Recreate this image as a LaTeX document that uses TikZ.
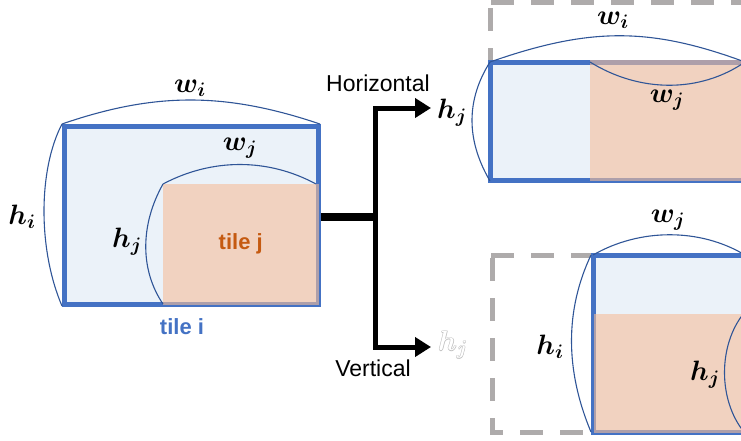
\RequirePackage{fix-cm}
\documentclass[tikz,border=0pt]{standalone}
\usepackage{amsmath,bm}
\usepackage{fontspec}
\setsansfont{Liberation Sans}
\usetikzlibrary{arrows.meta}

\definecolor{tileblue}{RGB}{68,114,196}
\definecolor{tilefill}{RGB}{235,242,249}
\definecolor{tilejfill}{RGB}{245,190,154}
\definecolor{tilejtext}{RGB}{197,90,17}
\definecolor{curveblue}{RGB}{47,85,151}
\definecolor{dashgray}{RGB}{174,171,171}
\definecolor{hollowgray}{RGB}{190,190,190}

% outlined (hollow) lettering
\newcommand{\hollowsym}[1]{%
  \leavevmode
  \rlap{\textcolor{hollowgray}{\raisebox{0.6pt}{#1}}}%
  \rlap{\textcolor{hollowgray}{\raisebox{-0.6pt}{#1}}}%
  \rlap{\textcolor{hollowgray}{\hspace{0.6pt}#1}}%
  \rlap{\textcolor{hollowgray}{\hspace{-0.6pt}#1}}%
  \textcolor{white}{#1}}

\tikzset{
  tilei/.style={draw=tileblue, fill=tilefill, line width=5pt, inner sep=0pt,
    line join=miter},
  tilej/.style={fill=tilejfill, fill opacity=0.6, text opacity=1, inner sep=0pt,
    text=tilejtext, font=\sffamily\bfseries\fontsize{22}{26}\selectfont},
  ghost/.style={draw=dashgray, line width=5pt, dash pattern=on 23pt off 17pt},
  span/.style={draw=curveblue, line width=1.1pt},
  sym/.style={font=\fontsize{28}{32}\selectfont, inner sep=0pt},
  dirlabel/.style={font=\sffamily\fontsize{23}{27}\selectfont, inner sep=0pt},
  bar/.style={line width=8pt, line cap=butt},
  branch/.style={line width=5pt, line join=miter,
    -{Triangle[length=16pt,width=19pt]}},
}

\begin{document}
\begin{tikzpicture}[x=1pt,y=-1pt]
\useasboundingbox (0,0) rectangle (741,440);
\clip (0,0) rectangle (741,440);

% ---- original placement: tile j inside tile i ----
\node[tilei, minimum width=254pt, minimum height=178pt] (ti) at (191.5,215.5) {};
\node[tilej, minimum width=155.5pt, minimum height=120.5pt] (tj) at (240.75,244.25) {tile j};
\node[font=\sffamily\bfseries\fontsize{22}{26}\selectfont, text=tileblue, inner sep=0pt]
  (tilabel) at (182,327) {tile i};

\draw[span] (62,124) .. controls (155,92) and (225,92) .. (320,124);
\draw[span] (62,124) .. controls (38,170) and (38,250) .. (62,306);
\draw[span] (163,184) .. controls (212,158) and (268,158) .. (316,184);
\draw[span] (163,184) .. controls (140,225) and (140,270) .. (163,304);
\node[sym] (wiA) at (190,88) {$\bm{w_i}$};
\node[sym] (hiA) at (22,217) {$\bm{h_i}$};
\node[sym] (wjA) at (240,148) {$\bm{w_j}$};
\node[sym] (hjA) at (127,242) {$\bm{h_j}$};

% ---- split connector ----
\coordinate (split) at (375,217);
\coordinate (hz) at (431,108);
\coordinate (vt) at (431,347);
\draw[bar] (ti.east |- split) -- ([xshift=2.5pt]split);
\draw[branch] (split) |- (hz);
\draw[branch] (split) |- (vt);
\node[dirlabel] (hlab) at (378,83) {Horizontal};
\node[dirlabel] (vlab) at (373,368) {Vertical};

% ---- horizontal split ----
\draw[ghost] (491,2.5) -- (760,2.5);
\draw[ghost] (490.5,8) -- (490.5,181);
\node[tilei, minimum width=259.5pt, minimum height=118pt] (tiH) at (620.25,121.5) {};
\node[tilej, minimum width=160pt, minimum height=120.5pt] (tjH) at (670,120.25) {};
\draw[span] (490,62) .. controls (590,27) and (650,27) .. (745,62);
\draw[span] (590,62) .. controls (640,93) and (700,93) .. (745,62);
\draw[span] (490,62) .. controls (466,100) and (466,140) .. (490,181);
\node[sym] (wiH) at (613,20) {$\bm{w_i}$};
\node[sym] (wjH) at (667,100) {$\bm{w_j}$};
\node[sym] (hjH) at (452,113) {$\bm{h_j}$};

% ---- vertical split ----
\node[sym] (hjV0) at (453,345) {\hollowsym{$\bm{h_j}$}};
\draw[ghost] (593.5,255.5) -- (490.5,255.5);
\draw[ghost] (492.5,258) -- (492.5,435);
\draw[ghost, dash phase=10pt] (490,432.5) -- (593.5,432.5);
\node[tilei, minimum width=156.5pt, minimum height=177pt] (tiV) at (671.75,344) {};
\node[tilej, minimum width=157pt, minimum height=119.5pt] (tjV) at (672,373.25) {};
\draw[span] (593,255) .. controls (640,228) and (700,228) .. (745,255);
\draw[span] (591,255) .. controls (565,310) and (565,370) .. (591,432);
\draw[span] (744,313) .. controls (718,345) and (718,400) .. (744,432);
\node[sym] (wjV) at (668,220) {$\bm{w_j}$};
\node[sym] (hiV) at (550,347) {$\bm{h_i}$};
\node[sym] (hjV) at (705,375) {$\bm{h_j}$};
\end{tikzpicture}
\end{document}
